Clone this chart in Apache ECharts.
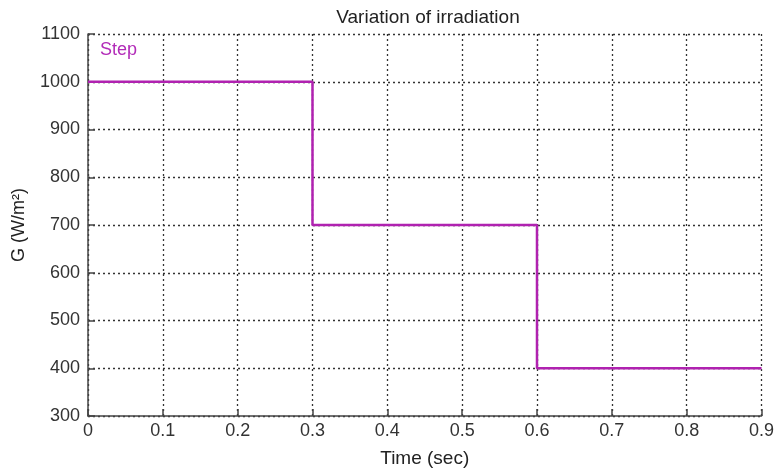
<!DOCTYPE html>
<html>
<head>
<meta charset="utf-8">
<script src="https://cdn.jsdelivr.net/npm/echarts@6/dist/echarts.min.js"></script>
<style>
  html, body { margin: 0; padding: 0; background: #fff; }
  #chart { width: 777px; height: 473px; }
</style>
</head>
<body>
<div id="chart"></div>
<script>
// Irradiation step profile: level changes at each breakpoint
const timeBreaks = [0, 0.3, 0.6, 0.9];
const irradiance = [1000, 700, 400, 400];
const xTicks = [0, 0.1, 0.2, 0.3, 0.4, 0.5, 0.6, 0.7, 0.8, 0.9];
const yTicks = [300, 400, 500, 600, 700, 800, 900, 1000, 1100];

const stepData = timeBreaks.map((t, i) => [t, irradiance[i]]);

const font = 'Liberation Sans, Arial, sans-serif';
const chart = echarts.init(document.getElementById('chart'), null, { renderer: 'canvas' });

chart.setOption({
  animation: false,
  backgroundColor: '#ffffff',
  title: {
    text: 'Variation of irradiation',
    left: 423, top: 3, textAlign: 'center',
    textStyle: { fontFamily: font, fontSize: 19, fontWeight: 'normal', color: '#222' }
  },
  grid: { left: 88, right: 13, top: 34, bottom: 57 },
  xAxis: {
    type: 'value',
    min: xTicks[0], max: xTicks[xTicks.length - 1], interval: 0.1,
    name: 'Time (sec)', nameLocation: 'middle', nameGap: 33,
    nameTextStyle: { fontFamily: font, fontSize: 19, color: '#222' },
    axisLine: { show: true, lineStyle: { color: '#444', width: 1.5 } },
    axisTick: { show: true, inside: true, length: 7, lineStyle: { color: '#444', width: 1.5 } },
    axisLabel: { fontFamily: font, fontSize: 18, color: '#333', margin: 6,
                 formatter: v => String(Math.round(v * 10) / 10) },
    splitLine: { show: true, lineStyle: { color: '#333', type: [2, 3], width: 1.3 } }
  },
  yAxis: {
    type: 'value',
    min: yTicks[0], max: yTicks[yTicks.length - 1], interval: 100,
    name: 'G (W/m²)', nameLocation: 'middle', nameGap: 60, nameRotate: 90,
    nameTextStyle: { fontFamily: font, fontSize: 18, color: '#222' },
    axisLine: { show: true, lineStyle: { color: '#444', width: 1.5 } },
    axisTick: { show: true, inside: true, length: 7, lineStyle: { color: '#444', width: 1.5 } },
    axisLabel: { fontFamily: font, fontSize: 18, color: '#333', margin: 8,
                 formatter: v => String(v) },
    splitLine: { show: true, lineStyle: { color: '#333', type: [2, 3], width: 1.3 } }
  },
  graphic: [{
    type: 'text', left: 100, top: 41,
    style: { text: 'Step', fontFamily: font, fontSize: 18, fill: '#B22BB8' }
  }],
  series: [{
    type: 'line',
    step: 'end',
    data: stepData,
    symbol: 'none',
    lineStyle: { color: '#B022B0', width: 2.5 }
  }]
});
</script>
</body>
</html>
